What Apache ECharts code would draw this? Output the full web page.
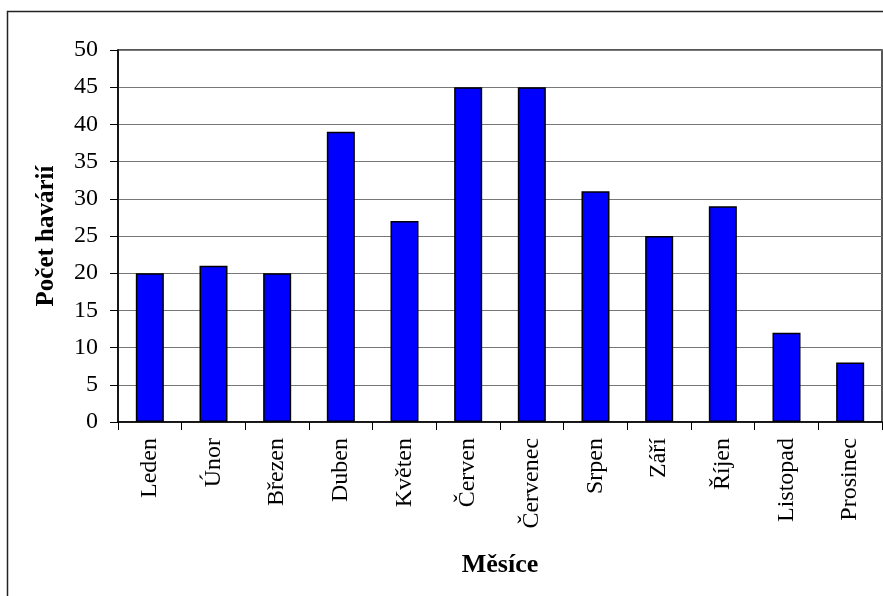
<!DOCTYPE html>
<html><head><meta charset="utf-8">
<script src="https://cdn.jsdelivr.net/npm/echarts@6/dist/echarts.min.js"></script>
<style>html,body{margin:0;padding:0;background:#fff}#c{width:883px;height:596px}</style>
</head><body><div id="c"></div>
<script>
const categories = ['Leden','Únor','Březen','Duben','Květen','Červen','Červenec','Srpen','Září','Říjen','Listopad','Prosinec'];
const values = [20,21,20,39,27,45,45,31,25,29,12,8];
const yTicks = {min:0, max:50, interval:5};
const xName = 'Měsíce';
const yName = 'Počet havárií';

const font = '"Liberation Serif", "Times New Roman", serif';
const chart = echarts.init(document.getElementById('c'), null, {renderer:'canvas'});
chart.setOption({
  animation:false,
  backgroundColor:'#fff',
  graphic:[{type:'rect', shape:{x:7.5,y:11.5,width:890,height:600}, style:{fill:'none', stroke:'#222', lineWidth:1.5}, z:-1}],
  grid:{left:118, top:50, right:1, bottom:174, show:true, borderColor:'#222', borderWidth:1.5, backgroundColor:'transparent'},
  xAxis:{
    type:'category', data:categories,
    name:xName, nameLocation:'middle', nameGap:130,
    nameTextStyle:{fontFamily:font, fontWeight:'bold', fontSize:26, color:'#000'},
    axisLine:{lineStyle:{color:'#000', width:1.5}},
    axisTick:{show:true, alignWithLabel:false, length:8, lineStyle:{color:'#000'}},
    axisLabel:{rotate:90, interval:0, margin:16, fontFamily:font, fontSize:24, color:'#000'},
    splitLine:{show:false}
  },
  yAxis:{
    type:'value', min:yTicks.min, max:yTicks.max, interval:yTicks.interval,
    name:yName, nameLocation:'middle', nameGap:59,
    nameTextStyle:{fontFamily:font, fontWeight:'bold', fontSize:25, color:'#000'},
    axisLine:{show:true, lineStyle:{color:'#000', width:1.5}},
    axisTick:{show:true, length:8, lineStyle:{color:'#000'}},
    axisLabel:{margin:20, fontFamily:font, fontSize:24, color:'#000'},
    splitLine:{show:true, lineStyle:{color:'#777', width:1.2}}
  },
  series:[{
    type:'bar', data:values, barWidth:'44%',
    itemStyle:{color:'#0000FF', borderColor:'#000', borderWidth:1.5}
  }]
});
</script></body></html>
